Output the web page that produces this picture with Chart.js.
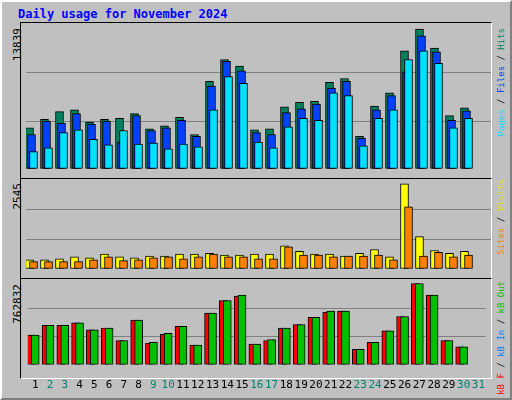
<!DOCTYPE html>
<html>
<head>
<meta charset="utf-8">
<script src="https://cdn.jsdelivr.net/npm/chart.js@4"></script>
<style>
body { margin:0; width:512px; height:400px; background:#fff; overflow:hidden; }
#frame { position:absolute; left:0; top:0; width:508px; height:396px; background:#c0c0c0;
  border-top:2px solid #fff; border-left:2px solid #fff; border-right:2px solid #808080; border-bottom:2px solid #808080; }
.panel { position:absolute; left:20px; width:470px; border-top:1px solid #000; border-left:1px solid #000;
  border-right:1px solid #fff; border-bottom:1px solid #fff; }
canvas { position:absolute; }
.vt { position:absolute; writing-mode:vertical-rl; transform:rotate(180deg); font:9px "DejaVu Sans Mono", monospace; white-space:nowrap; }
.vl { font-size:11px; }
#title { position:absolute; left:18px; top:7px; font:bold 12px "DejaVu Sans Mono", monospace; color:#0000ff; }
</style>
</head>
<body>
<div id="frame"></div>
<div id="title">Daily usage for November 2024</div>
<div class="panel" style="top:22px;height:155px"></div>
<div class="panel" style="top:178px;height:99px"></div>
<div class="panel" style="top:278px;height:99px"></div>
<div class="vt vl" style="left:11px;top:28px">13839</div>
<div class="vt vl" style="left:11px;top:183px">2545</div>
<div class="vt vl" style="left:11px;top:284px">762832</div>
<div class="vt" style="left:496px;top:28px"><span style="color:#00e0ff">Pages</span> / <span style="color:#0040ff">Files</span> / <span style="color:#00805c">Hits</span></div>
<div class="vt" style="left:496px;top:179px"><span style="color:#ff8000">Sites</span> / <span style="color:#e0e000">Visits</span></div>
<div class="vt" style="left:496px;top:281px"><span style="color:#ff0000">kB F</span> / <span style="color:#0080ff">kB In</span> / <span style="color:#00c000">kB Out</span></div>
<canvas id="c1" style="left:25.5px;top:25px" width="465" height="152"></canvas>
<canvas id="c2" style="left:25.5px;top:180px" width="465" height="97"></canvas>
<canvas id="c3" style="left:25.5px;top:280px" width="465" height="118"></canvas>
<script>
const days = Array.from({length: 31}, (_, i) => i + 1);
const weekend = [2, 3, 9, 10, 16, 17, 23, 24, 30, 31];
const hits  = [4070,4916,5667,5855,4634,4916,5010,5479,3976,4258,5104,3413,8673,10833,10176,3882,3976,6137,6606,6700,8579,8955,3225,6231,7546,11679,13839,11960,5291,6043,0];
const files = [3413,4728,4540,5479,4446,4728,2661,5291,3789,4070,4822,3225,8203,10645,9706,3601,3413,5573,5949,6419,8015,8673,3037,5855,7264,9612,13182,11585,4822,5761,0];
const pages = [1722,2098,3601,3882,2943,2380,3789,2473,2567,2004,2473,2192,5855,9143,8485,2661,2098,4164,5010,4822,7546,7264,2286,5010,5855,10833,11679,10458,4070,5010,0];
const visits = [277,277,304,360,332,443,360,332,387,387,443,443,470,415,415,443,443,692,526,443,443,387,470,581,360,2545,968,553,470,526,0];
const sites  = [221,221,221,221,277,360,249,277,332,360,304,360,443,360,360,304,304,664,415,415,360,387,387,415,277,1853,387,498,360,415,0];
const kbIn  = [278400,370272,370272,395328,328512,345216,228288,420384,211584,295104,361920,186528,487200,604128,654240,194880,236640,345216,378624,445440,503904,503904,144768,211584,320160,453792,762832,654240,228288,169824,0];
const kbF   = [278400,370272,370272,395328,328512,345216,228288,420384,203232,286752,361920,186528,487200,604128,645888,194880,228288,345216,378624,445440,495552,503904,144768,211584,320160,453792,762832,654240,228288,169824,0];
const kbOut = kbIn;
const maxHits = 13839, maxVisits = 2545, maxKB = 762832;

Chart.defaults.font.family = '"DejaVu Sans Mono", monospace';
Chart.defaults.font.size = 11;

function ds(vals, off, color) {
  return { data: days.map((d, i) => ({x: d + off, y: vals[i]})), backgroundColor: color,
    borderColor: '#000', borderWidth: 1, barThickness: 8, grouped: false, borderSkipped: false };
}
function make(id, datasets, ymax, showX) {
  new Chart(document.getElementById(id), {
    type: 'bar',
    data: { datasets },
    options: {
      responsive: false, animation: false, devicePixelRatio: 1,
      layout: { padding: 0 },
      plugins: { legend: { display: false }, tooltip: { enabled: false } },
      scales: {
        x: { type: 'linear', min: 0.5, max: 31.5, offset: false,
          grid: { display: false }, border: { display: false },
          afterBuildTicks: s => { s.ticks = days.map(v => ({value: v})); },
          ticks: { display: showX, autoSkip: false, maxRotation: 0, padding: 6,
            color: c => weekend.includes(c.tick.value) ? '#00806c' : '#000',
            callback: v => String(v) } },
        y: { min: 0, max: ymax, display: true,
          afterBuildTicks: s => { s.ticks = [0, 1, 2, 3].map(k => ({value: ymax * k / 3})); },
          ticks: { display: false }, border: { display: false },
          grid: { color: c => (c.index === 0 || c.index === 3) ? 'rgba(0,0,0,0)' : '#808080', drawTicks: false } }
      }
    }
  });
}
make('c1', [ds(pages, 0, '#00e0ff'), ds(files, -0.133, '#0040ff'), ds(hits, -0.267, '#00805c')], maxHits * 151.7 / 147.4, false);
make('c2', [ds(sites, 0, '#ff8000'), ds(visits, -0.267, '#ffff00')], maxVisits * 96 / 92, false);
make('c3', [ds(kbOut, 0, '#00c000'), ds(kbF, -0.267, '#ff0000')], maxKB * 95.4 / 91.3, true);
</script>
</body>
</html>
